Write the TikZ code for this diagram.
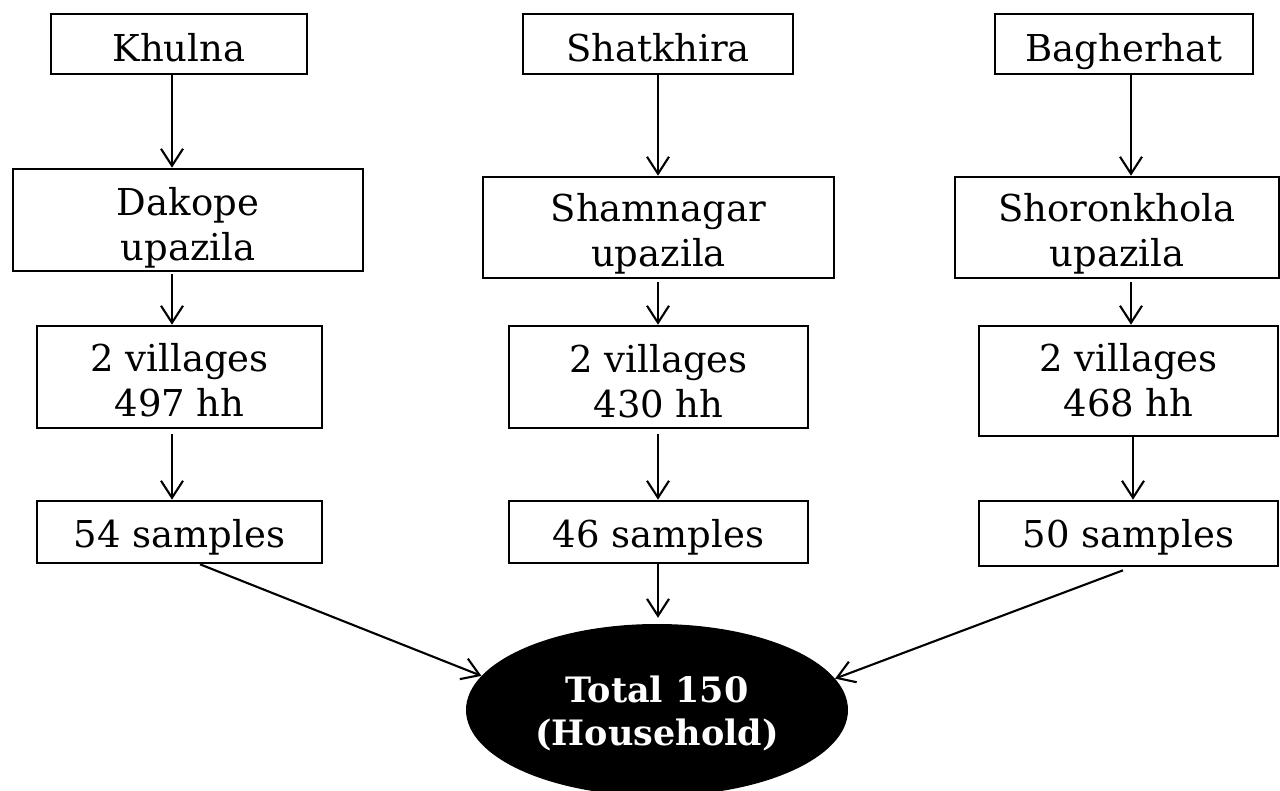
\documentclass[tikz,border=0pt]{standalone}
\usepackage{fontspec}
\setmainfont{DejaVu Serif}
\usetikzlibrary{shapes.geometric,arrows.meta}
\newcommand\boxtxt[2]{\raisebox{#1}[0pt][0pt]{\begin{tabular}[t]{@{}c@{}}#2\end{tabular}}}
\begin{document}
\begin{tikzpicture}[x=1pt,y=-1pt,
  box/.style={draw,line width=2.6pt,align=center,inner sep=0pt,font=\fontsize{37}{45}\selectfont},
  arr/.style={line width=2.1pt,-{Straight Barb[length=17pt,width=22pt,line width=2.1pt]}},
  total/.style={ellipse,fill=black,text=white,align=center,inner sep=0pt,
     minimum width=382pt,minimum height=172pt,font=\fontsize{35}{43}\selectfont\bfseries}]
\useasboundingbox (0,0) rectangle (1280,791);
% row 1
\node[box,minimum width=256pt,minimum height=60pt] (k) at (179,44) {\boxtxt{-18pt}{Khulna}};
\node[box,minimum width=270pt,minimum height=60pt] (s) at (658,44) {\boxtxt{-18pt}{Shatkhira}};
\node[box,minimum width=258pt,minimum height=60pt] (b) at (1124,44) {\boxtxt{-18pt}{Bagherhat}};
% row 2
\node[box,minimum width=350pt,minimum height=102pt] (ku) at (188,220) {\boxtxt{4pt}{Dakope\\upazila}};
\node[box,minimum width=351pt,minimum height=101pt] (su) at (658.5,227.5) {\boxtxt{6pt}{Shamnagar\\upazila}};
\node[box,minimum width=324pt,minimum height=101pt] (bu) at (1117,227.5) {\boxtxt{6pt}{Shoronkhola\\upazila}};
% row 3
\node[box,minimum width=285pt,minimum height=102pt] (kv) at (179.5,377) {\boxtxt{5pt}{2 villages\\497 hh}};
\node[box,minimum width=299pt,minimum height=102pt] (sv) at (658.5,377) {\boxtxt{4pt}{2 villages\\430 hh}};
\node[box,minimum width=299pt,minimum height=110pt] (bv) at (1128.5,381) {\boxtxt{9pt}{2 villages\\468 hh}};
% row 4
\node[box,minimum width=285pt,minimum height=62pt] (ks) at (179.5,532) {\boxtxt{-15pt}{54 samples}};
\node[box,minimum width=299pt,minimum height=62pt] (ss) at (658.5,532) {\boxtxt{-15pt}{46 samples}};
\node[box,minimum width=299pt,minimum height=65pt] (bs) at (1128.5,533.5) {\boxtxt{-13.5pt}{50 samples}};
% total
\node[total] (t) at (657,710) {\boxtxt{8pt}{Total 150\\(Household)}};
% column 1 arrows
\draw[arr] (k.south -| 172,0) -- (ku.north -| 172,0);
\draw[arr] ([yshift=-2pt]ku.south -| 172,0) -- (kv.north -| 172,0);
\draw[arr] ([yshift=-5pt]kv.south -| 172,0) -- (ks.north -| 172,0);
% column 2 arrows
\draw[arr] (s.south -| 658,0) -- (su.north -| 658,0);
\draw[arr] ([yshift=-3pt]su.south -| 658,0) -- (sv.north -| 658,0);
\draw[arr] ([yshift=-5pt]sv.south -| 658,0) -- (ss.north -| 658,0);
\draw[arr] (ss.south -| 658,0) -- ([yshift=6pt]t.north -| 658,0);
% column 3 arrows
\draw[arr] (b.south -| 1131,0) -- (bu.north -| 1131,0);
\draw[arr] ([yshift=-3pt]bu.south -| 1131,0) -- (bv.north -| 1131,0);
\draw[arr] (bv.south -| 1133,0) -- (bs.north -| 1133,0);
% diagonals
\draw[arr] (ks.south -| 200,0) -- (t.169);
\draw[arr] ([yshift=-3pt]bs.south -| 1123,0) -- (t.10);
\end{tikzpicture}
\end{document}
